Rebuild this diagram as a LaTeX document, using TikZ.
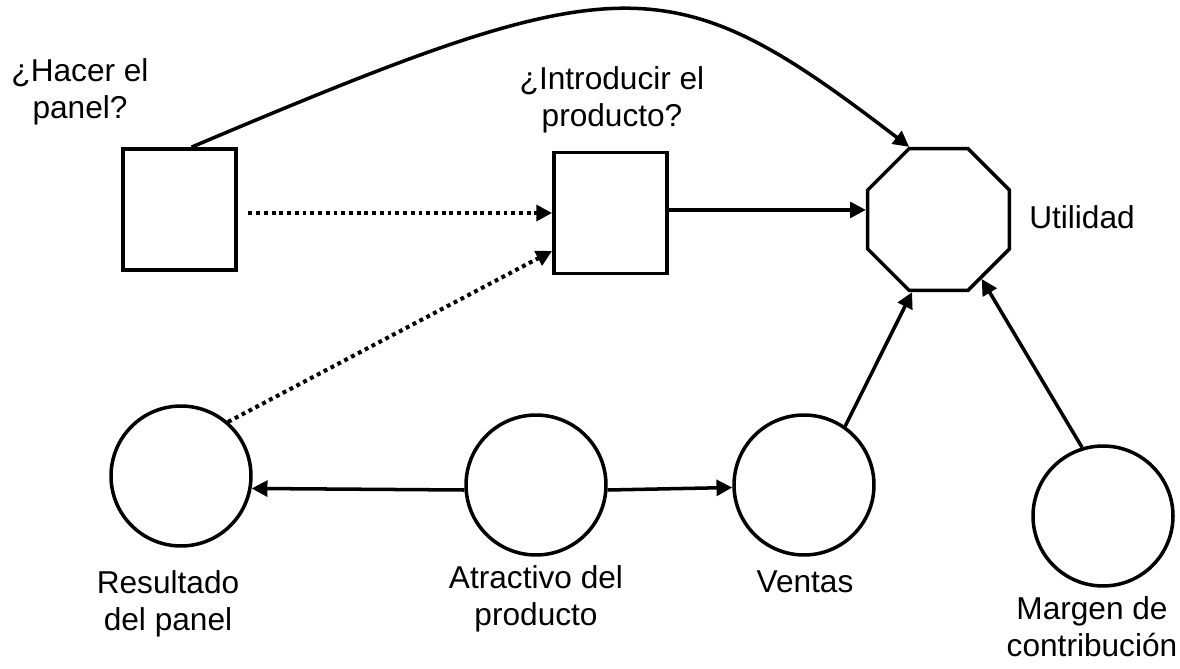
\documentclass[tikz,border=0pt]{standalone}
\usepackage{fontspec}
\setmainfont{Liberation Sans}
\usetikzlibrary{shapes.geometric,arrows.meta}
\begin{document}
\begin{tikzpicture}[x=0.02cm,y=-0.02cm,
  box/.style={draw,line width=2.2pt,minimum width=2.26cm,minimum height=2.42cm,inner sep=0pt},
  chance/.style={draw,circle,line width=2pt,minimum size=2.8cm,inner sep=0pt},
  util/.style={draw,regular polygon,regular polygon sides=8,line width=2pt,minimum size=3.07cm,inner sep=0pt},
  lbl/.style={align=center,inner sep=0pt,font=\fontsize{18}{21}\selectfont},
  arr/.style={line width=2pt,-{Triangle[length=9pt,width=9pt]}},
  dotarr/.style={line width=2.3pt,dash pattern=on 2.2pt off 2.2pt,-{Triangle[length=9pt,width=9pt]}}]
\useasboundingbox (0,0) rectangle (1180,669);

% decision nodes
\node[box] (b1) at (179.5,209.5) {};
\node[box] (b2) at (610.5,213) {};
% value node
\node[util] (o) at (938.5,219.5) {};
% chance nodes
\node[chance] (r) at (181,476) {};
\node[chance] (a) at (536,485) {};
\node[chance] (v) at (804,485) {};
\node[chance] (m) at (1103,516) {};

% labels
\node[lbl] (t1) at (80,92) {¿Hacer el\\panel?};
\node[lbl] (t2) at (612,100) {¿Introducir el\\producto?};
\node[lbl] (tu) at (1082,217) {Utilidad};
\node[lbl] (tr) at (168,604) {Resultado\\del panel};
\node[lbl] (ta) at (536,599) {Atractivo del\\producto};
\node[lbl] (tv) at (805,582) {Ventas};
\node[lbl] (tm) at (1092,627) {Margen de\\contribución};

% connectors
\draw[dotarr, shorten <=6pt] (b1.east |- b2.west) -- (b2.west);
\draw[dotarr] (r.49) -- (b2.213);
\draw[arr] (b2.3) -- (b2.3 -| o.west);
\draw[arr] (b1.79) .. controls (624,-36) and (669,-37) .. (o.112.5);
\draw[arr] (a.184) -- (r.350);
\draw[arr] (a.356) -- (v.182);
\draw[arr] (v.55) -- (o.250);
\draw[arr] (m.107) -- (o.306);
\end{tikzpicture}
\end{document}
